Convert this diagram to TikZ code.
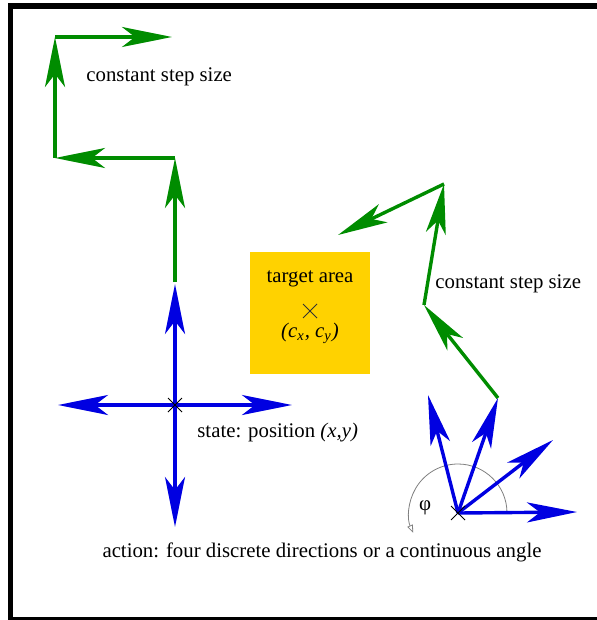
\documentclass[tikz,border=0pt]{standalone}
\usepackage{fontspec}
\setmainfont{Liberation Serif}
\usetikzlibrary{arrows.meta}
\definecolor{StepGreen}{RGB}{0,140,0}
\definecolor{ActBlue}{RGB}{0,0,225}
\definecolor{TargetGold}{RGB}{255,210,0}
\tikzset{
  steparr/.style={-{Stealth[length=25pt, width=10pt, inset=6.5pt]}, line width=1.7pt, StepGreen},
  actarr/.style={-{Stealth[length=25pt, width=10pt, inset=6.5pt]}, line width=1.7pt, ActBlue},
  anglearc/.style={-{Triangle[open, length=4pt, width=3pt]}, gray, line width=0.4pt},
  targetbox/.style={fill=TargetGold, minimum width=60pt, minimum height=61pt, inner sep=0pt},
  lbl/.style={inner sep=0pt, anchor=base west},
  clbl/.style={inner sep=0pt, anchor=base},
  xmark/.pic={\draw[line width=0.4pt, #1] (-7,-7) -- (7,7) (-7,7) -- (7,-7);},
  xmark/.default=gray,
}

\begin{document}
\begin{tikzpicture}[x=0.5pt, y=-0.5pt, font=\fontsize{10.4}{12.5}\selectfont]
    \useasboundingbox (0,0) rectangle (597,620);
    \clip (0,0) rectangle (597,620);
    % the frame, cut off on the right
    \draw[line width=2.8pt] (640,6) -- (10.5,6) -- (10.5,620) -- (640,620);
    % the target area
    \node[targetbox] (target) at (310,313) {};
    \node[clbl] (tlabel) at (310,282) {target area};
    \coordinate (c) at (310,311);
    \pic at (c) {xmark=black!80};
    \node[clbl] (clabel) at (310,337) {\textit{(c}\textsubscript{\textit{x}}\textit{, c}\textsubscript{\textit{y}}\textit{)}};
    % four discrete directions
    \coordinate (s) at (175,405);
    \coordinate (up) at (175,284);
    \coordinate (down) at (175,527);
    \coordinate (left) at (58,405);
    \coordinate (right) at (292,405);
    \foreach \d in {up,down,left,right} \draw[actarr] (s) -- (\d);
    \pic at (s) {xmark};
    \node[lbl] (state) at (197,437) {state: position \textit{(x,y)}};
    % steps on the left
    \coordinate (g0) at (175,282);
    \coordinate (g1) at (175,158);
    \coordinate (g2) at (55,158);
    \coordinate (g3) at (55,37);
    \coordinate (g4) at (172,37);
    \foreach \a/\b in {g0/g1,g1/g2,g2/g3,g3/g4} \draw[steparr] (\a) -- (\b);
    \node[lbl] (steptop) at (86,82) {constant step size};
    % steps on the right
    \coordinate (h0) at (498,398);
    \coordinate (h1) at (424,305);
    \coordinate (h2) at (444,184);
    \coordinate (h3) at (338,235);
    \foreach \a/\b in {h0/h1,h1/h2,h2/h3} \draw[steparr] (\a) -- (\b);
    \node[lbl] (steprt) at (435,288) {constant step size};
    % a continuous angle
    \coordinate (o) at (458,513);
    \coordinate (f1) at (577,512);
    \coordinate (f2) at (553,440);
    \coordinate (f3) at (498,398);
    \coordinate (f4) at (428,395);
    \draw[anglearc] (o) ++(49,0) arc[start angle=0, end angle=-204, radius=49];
    \foreach \f in {f1,f2,f3,f4} \draw[actarr] (o) -- (\f);
    \pic at (o) {xmark};
    \node[inner sep=0pt] (phi) at (425,508) {φ};
    \node[clbl] (action) at (322,557) {action: four discrete directions or a continuous angle};
\end{tikzpicture}
\end{document}
